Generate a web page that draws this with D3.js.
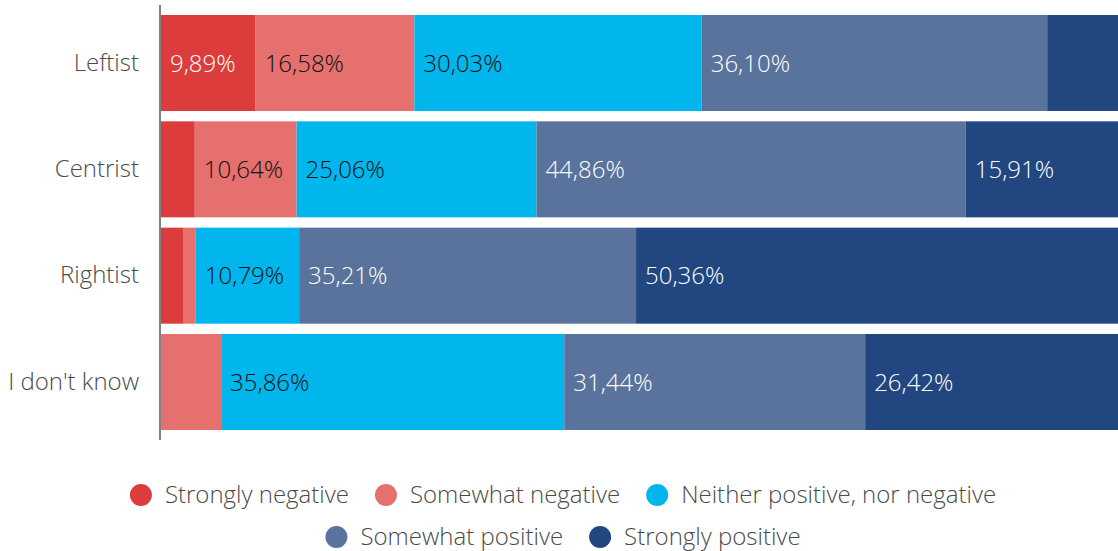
<!DOCTYPE html>
<html>
<head>
<meta charset="utf-8">
<script src="https://cdn.jsdelivr.net/npm/d3@7"></script>
<style>
  body { margin: 0; background: #fff; }
  text { font-family: "Open Sans", sans-serif; font-weight: 300; }
</style>
</head>
<body>
<div id="chartDiv"></div>
<script>
// categories (top to bottom)
const categories = ["Leftist", "Centrist", "Rightist", "I don't know"];

// answer keys, in stack order
const keys = ["Strongly negative", "Somewhat negative", "Neither positive, nor negative", "Somewhat positive", "Strongly positive"];

// series values (%) per category
const stronglyNegative = [9.89, 3.53, 2.30, 0];
const somewhatNegative = [16.58, 10.64, 1.34, 6.28];
const neither          = [30.03, 25.06, 10.79, 35.86];
const somewhatPositive = [36.10, 44.86, 35.21, 31.44];
const stronglyPositive = [7.40, 15.91, 50.36, 26.42];

const colors = ["#dc3c3b", "#e5706e", "#00b6ec", "#59739c", "#22467f"];
const labelColors = ["#fff", "#111", "#111", "#fff", "#fff"];

const series = [stronglyNegative, somewhatNegative, neither, somewhatPositive, stronglyPositive];
const rows = categories.map((c, i) => {
  let row = { cat: c };
  keys.forEach((k, j) => { row[k] = series[j][i]; });
  return row;
});

const width = 1118, height = 551;
const margin = { top: 15, right: 0, bottom: 121, left: 161 };

const svg = d3.select("#chartDiv").append("svg")
  .attr("width", width)
  .attr("height", height);

const x = d3.scaleLinear()
  .domain([0, 100])
  .range([margin.left, width - margin.right]);

const y = d3.scaleBand()
  .domain(categories)
  .range([margin.top, 430])
  .paddingInner(0.097)
  .paddingOuter(0);

const stacked = d3.stack().keys(keys)(rows);

// bars
const layers = svg.selectAll(".layer")
  .data(stacked)
  .enter().append("g")
  .attr("class", "layer")
  .attr("fill", (d, i) => colors[i]);

layers.selectAll("rect")
  .data(d => d)
  .enter().append("rect")
  .attr("x", d => x(d[0]))
  .attr("y", d => y(d.data.cat))
  .attr("width", d => x(d[1]) - x(d[0]))
  .attr("height", y.bandwidth());

// value labels, only on wide enough segments
layers.each(function(layer, i) {
  d3.select(this).selectAll("text")
    .data(layer.filter(d => d[1] - d[0] >= 9))
    .enter().append("text")
    .attr("x", d => x(d[0]) + 9)
    .attr("y", d => y(d.data.cat) + y.bandwidth() / 2)
    .attr("dy", "0.36em")
    .attr("fill", labelColors[i])
    .style("font-size", "24px")
    .text(d => (d[1] - d[0]).toFixed(2).replace(".", ",") + "%");
});

// left axis
const yAxis = d3.axisLeft(y).tickSize(0).tickPadding(21);
const gy = svg.append("g")
  .attr("transform", "translate(" + (margin.left - 1) + ",0)")
  .call(yAxis);
gy.select(".domain").remove();
gy.selectAll("text")
  .attr("fill", "#4a4a4a")
  .style("font-size", "24px");

svg.append("line")
  .attr("x1", margin.left - 1).attr("x2", margin.left - 1)
  .attr("y1", 5).attr("y2", 440)
  .attr("stroke", "#808080")
  .attr("stroke-width", 2);

// legend
const legendRows = [[0, 1, 2], [3, 4]];
const legendY = [495, 537];
const r = 11, gapText = 13, gapItem = 26;

legendRows.forEach((idx, ri) => {
  const g = svg.append("g");
  let cx = 0;
  idx.forEach(k => {
    g.append("circle")
      .attr("cx", cx + r)
      .attr("cy", legendY[ri])
      .attr("r", r)
      .attr("fill", colors[k]);
    const t = g.append("text")
      .attr("x", cx + 2 * r + gapText)
      .attr("y", legendY[ri])
      .attr("dy", "0.35em")
      .attr("fill", "#4a4a4a")
      .style("font-size", "24px")
      .text(keys[k]);
    cx += 2 * r + gapText + t.node().getComputedTextLength() + gapItem;
  });
  const w = cx - gapItem;
  g.attr("transform", "translate(" + (563 - w / 2) + ",0)");
});
</script>
</body>
</html>
